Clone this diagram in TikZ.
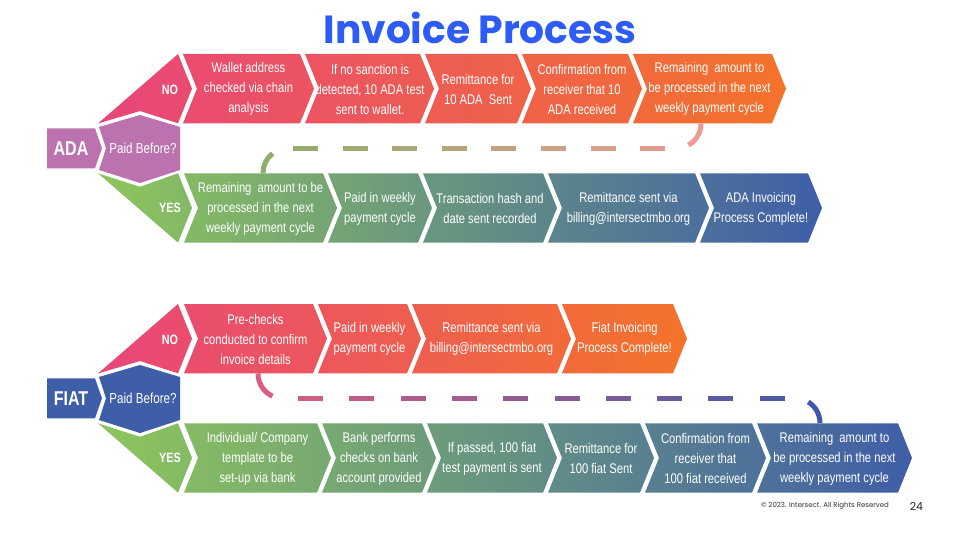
\documentclass[tikz,border=0pt]{standalone}
\usepackage{fontspec}
\setmainfont{Liberation Sans}
\newfontfamily\boxfont[FakeStretch=0.8]{Liberation Sans}
\newfontfamily\popfont{Poppins}
\usetikzlibrary{calc}

\definecolor{titleblue}{HTML}{2D5BF6}
\definecolor{adapurple}{HTML}{BC72AE}
\definecolor{fiatblue}{HTML}{3F5EA8}
\definecolor{noL}{HTML}{E8467A}
\definecolor{noR}{HTML}{F4732A}
\definecolor{yesL}{HTML}{8DC65C}
\definecolor{yesR}{HTML}{3F5EA8}
\definecolor{aDashL}{HTML}{8CAE6A}
\definecolor{aDashR}{HTML}{EE9A92}
\definecolor{fDashL}{HTML}{DB5E80}
\definecolor{fDashR}{HTML}{3F5AA8}

% chevron body: left x, right x, top y (height 69.3, point depth 14)
\newcommand\chevp[3]{(#1,#3) -- (#2,#3) -- (#2+14,#3+34.65) -- (#2,#3+69.3) -- (#1,#3+69.3) -- (#1+14,#3+34.65) -- cycle}
% "NO" wedge above the question hexagon, top y of its row
\newcommand\nowedge[1]{(98,#1+69.5) -- (178,#1) -- (192,#1+34.65) -- (178,#1+69.3) -- (140,#1+57) -- cycle}
% "YES" wedge below the question hexagon, top y of its row
\newcommand\yeswedge[1]{(98,#1) -- (140,#1+13.5) -- (178,#1) -- (192,#1+34.65) -- (178,#1+69.3) -- cycle}
% currency tag and question hexagon, centre line y
\newcommand\tagshape[1]{(47,#1-20) -- (95,#1-20) -- (102,#1) -- (95,#1+20) -- (47,#1+20) -- cycle}
\newcommand\hexshape[1]{(99,#1-21.3) -- (140,#1-33.3) -- (180,#1-21.3) -- (180,#1+21.7) -- (140,#1+34.7) -- (99,#1+21.7) -- (106,#1) -- cycle}

\begin{document}
\begin{tikzpicture}[x=1pt,y=-1pt,
  boxtext/.style={text=white, font=\boxfont\fontsize{14}{20}\selectfont, align=center, inner sep=0pt, minimum height=69.3pt},
  branch/.style={text=white, font=\boxfont\bfseries\fontsize{13.5}{16}\selectfont, inner sep=0pt},
  kind/.style={text=white, font=\boxfont\bfseries\fontsize{20}{24}\selectfont, inner sep=0pt},
  question/.style={text=white, font=\boxfont\fontsize{14.5}{17}\selectfont, inner sep=0pt},
  link/.style={line width=5pt, line cap=butt},
]
\useasboundingbox (0,0) rectangle (960,540);
\fill[white] (0,0) rectangle (960,540);

% title
\node[font=\popfont\bfseries\fontsize{39.2}{47}\selectfont, text=titleblue, anchor=base, inner sep=0pt] (title) at (480,43.5) {Invoice Process};

% ---------------- ADA ----------------
\fill[adapurple] \tagshape{148.3};
\fill[adapurple] \hexshape{148.3};
\node[kind] (adaTag) at (71,148.3) {ADA};
\node[question] (adaQ) at (143,148.3) {Paid Before?};

\shade[left color=noL, right color=noR]
  \nowedge{54} \chevp{183}{300}{54} \chevp{305}{420}{54} \chevp{425}{517}{54}
  \chevp{522}{628}{54} \chevp{633}{772}{54};
\shade[left color=yesL, right color=yesR]
  \yeswedge{173.3} \chevp{184}{323}{173.3} \chevp{328}{418}{173.3} \chevp{423}{543}{173.3}
  \chevp{548}{695}{173.3} \chevp{700}{808}{173.3};

\node[branch] (adaNo) at (170,90) {NO};
\node[branch] (adaYes) at (170,208) {YES};

\node[boxtext] (an1) at (248.5,89.2) {Wallet address\\checked via chain\\analysis};
\node[boxtext] (an2) at (370,89.2) {If no sanction is\\detected, 10 ADA test\\sent to wallet.};
\node[boxtext] (an3) at (478,89.2) {Remittance for\\10 ADA\ \ Sent};
\node[boxtext] (an4) at (582,89.2) {Confirmation from\\receiver that 10\\ADA received};
\node[boxtext] (an5) at (709.5,89.2) {Remaining\ \ amount to\\be processed in the next\\weekly payment cycle};

\node[boxtext] (ay1) at (260.5,208.5) {Remaining\ \ amount to be\\processed in the next\\weekly payment cycle};
\node[boxtext] (ay2) at (380,208.5) {Paid in weekly\\payment cycle};
\node[boxtext] (ay3) at (490,208.5) {Transaction hash and\\date sent recorded};
\node[boxtext] (ay4) at (628.5,208.5) {Remittance sent via\\billing@intersectmbo.org};
\node[boxtext] (ay5) at (761,208.5) {ADA Invoicing\\Process Complete!};

% carry-over link between the two "remaining amount" steps
\draw[link, draw=aDashR] ($(an5.south)+(-8.5,-0.55)$) arc[start angle=0, end angle=60, radius=25];
\foreach \i in {0,...,7}{
  \pgfmathsetmacro\xa{293+49.6*\i}
  \pgfmathtruncatemacro\pc{(\xa+12.5-263)/4.38}
  \draw[link, draw=aDashR!\pc!aDashL] (\xa,148.3) -- ++(25,0);
}
\draw[link, draw=aDashL] ($(ay1.north)+(2.5,-0.55)$) arc[start angle=180, end angle=232, radius=25];

% ---------------- FIAT ----------------
\fill[fiatblue] \tagshape{398.3};
\fill[fiatblue] \hexshape{398.3};
\node[kind] (fiatTag) at (71,398.3) {FIAT};
\node[question] (fiatQ) at (143,398.3) {Paid Before?};

\shade[left color=noL, right color=noR]
  \nowedge{304} \chevp{184}{313}{304} \chevp{318}{407}{304} \chevp{412}{557}{304}
  \chevp{562}{673}{304};
\shade[left color=yesL, right color=yesR]
  \yeswedge{423.3} \chevp{184}{317}{423.3} \chevp{322}{422}{423.3} \chevp{427}{543}{423.3}
  \chevp{548}{640}{423.3} \chevp{645}{752}{423.3} \chevp{757}{898}{423.3};

\node[branch] (fiatNo) at (170,340) {NO};
\node[branch] (fiatYes) at (170,458) {YES};

\node[boxtext] (fn1) at (255.5,339.2) {Pre-checks\\conducted to confirm\\invoice details};
\node[boxtext] (fn2) at (369.5,339.2) {Paid in weekly\\payment cycle};
\node[boxtext] (fn3) at (491.5,339.2) {Remittance sent via\\billing@intersectmbo.org};
\node[boxtext] (fn4) at (624.5,339.2) {Fiat Invoicing\\Process Complete!};

\node[boxtext] (fy1) at (257.5,458.5) {Individual/ Company\\template to be\\set-up via bank};
\node[boxtext] (fy2) at (379,458.5) {Bank performs\\checks on bank\\account provided};
\node[boxtext] (fy3) at (492,458.5) {If passed, 100 fiat\\test payment is sent};
\node[boxtext] (fy4) at (601,458.5) {Remittance for\\100 fiat Sent};
\node[boxtext] (fy5) at (705.5,458.5) {Confirmation from\\receiver that\\100 fiat received};
\node[boxtext] (fy6) at (834.5,458.5) {Remaining\ \ amount to\\be processed in the next\\weekly payment cycle};

\draw[link, draw=fDashL] ($(fn1.south)+(2.5,-0.55)$) arc[start angle=180, end angle=115, radius=25];
\foreach \i in {0,...,9}{
  \pgfmathsetmacro\xa{298+51.3*\i}
  \pgfmathtruncatemacro\pc{(\xa+12.5-258)/5.62}
  \draw[link, draw=fDashR!\pc!fDashL] (\xa,398.5) -- ++(25,0);
}
\draw[link, draw=fDashR] ($(fy6.north)+(-14.5,-0.55)$) arc[start angle=0, end angle=-58, radius=25];

% footer
\node[font=\popfont\fontsize{7}{8}\selectfont, text=black!80, anchor=base, inner sep=0pt] (copy) at (825,507) {© 2023. Intersect. All Rights Reserved};
\node[font=\popfont\fontsize{11}{13}\selectfont, text=black!85, anchor=base, inner sep=0pt] (page) at (916.5,510.5) {24};
\end{tikzpicture}
\end{document}
